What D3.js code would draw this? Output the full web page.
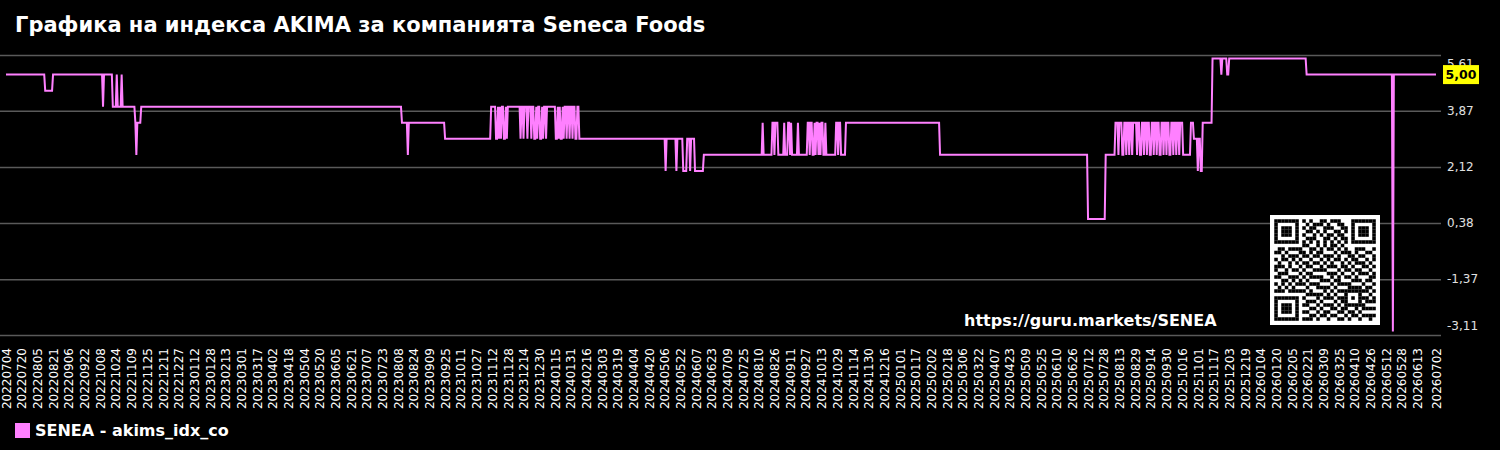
<!DOCTYPE html>
<html><head><meta charset="utf-8">
<script src="https://cdn.jsdelivr.net/npm/d3@7"></script>
<style>
html,body{margin:0;padding:0;background:#000;}
svg{display:block;font-family:"DejaVu Sans",sans-serif;}
</style></head>
<body>
<svg id="chart" width="1500" height="450"></svg>
<script>
// ---- data ----
const seriesName = "SENEA - akims_idx_co";
const titleText = "Графика на индекса AKIMA за компанията Seneca Foods";
const urlText = "https://guru.markets/SENEA";
const firstDate = "2022-07-04";
const lastDate = "2026-07-02";
const lastValue = 5.00;
// step series: date on which a new value starts, and the value
const runStarts = [
"2022-07-04","2022-08-13","2022-08-21","2022-10-11","2022-10-12","2022-10-21","2022-10-25","2022-10-26","2022-10-30","2022-10-31",
"2022-11-13","2022-11-14","2022-11-15","2022-11-19","2023-08-12","2023-08-18","2023-08-19","2023-09-25","2023-11-11",
"2023-11-16","2023-11-18","2023-11-19","2023-11-20","2023-11-21","2023-11-22","2023-11-24","2023-11-26","2023-11-27","2023-11-28",
"2023-12-11","2023-12-12","2023-12-14","2023-12-15","2023-12-18","2023-12-19","2023-12-22","2023-12-23","2023-12-25","2023-12-27",
"2023-12-28","2023-12-29","2023-12-31","2024-01-02","2024-01-03","2024-01-04","2024-01-06","2024-01-07","2024-01-16","2024-01-18",
"2024-01-19","2024-01-20","2024-01-21","2024-01-23","2024-01-24","2024-01-25","2024-01-27","2024-01-28","2024-01-30","2024-01-31",
"2024-02-02","2024-02-03","2024-02-05","2024-02-07","2024-02-09",
"2024-05-07","2024-05-08","2024-05-18","2024-05-19","2024-05-25","2024-05-29","2024-06-01","2024-06-02","2024-06-06","2024-06-15",
"2024-08-14","2024-08-15","2024-08-24","2024-08-26","2024-08-27","2024-08-30","2024-09-05","2024-09-06","2024-09-09","2024-09-11",
"2024-09-12","2024-09-13","2024-09-19","2024-09-20","2024-09-29","2024-10-01","2024-10-02","2024-10-04","2024-10-06","2024-10-07",
"2024-10-08","2024-10-10","2024-10-11","2024-10-12","2024-10-13","2024-10-15","2024-10-17","2024-10-18","2024-10-28","2024-10-30",
"2024-10-31","2024-11-02","2024-11-07","2025-02-11","2025-07-12","2025-07-30",
"2025-08-09","2025-08-12","2025-08-13","2025-08-16","2025-08-18","2025-08-20","2025-08-21","2025-08-23","2025-08-24","2025-08-26",
"2025-08-27","2025-08-31","2025-09-01","2025-09-03","2025-09-05","2025-09-07","2025-09-08","2025-09-10","2025-09-11","2025-09-13",
"2025-09-15","2025-09-17","2025-09-18","2025-09-20","2025-09-21","2025-09-23","2025-09-25","2025-09-27","2025-09-28","2025-09-30",
"2025-10-01","2025-10-03","2025-10-05","2025-10-07","2025-10-08","2025-10-10","2025-10-11","2025-10-13","2025-10-14","2025-10-17",
"2025-10-25","2025-10-28","2025-11-01","2025-11-02","2025-11-04","2025-11-06","2025-11-16","2025-11-25","2025-11-26","2025-12-01",
"2025-12-03","2026-02-20","2026-05-19","2026-05-20"
];
const runValues = [
5.0,4.5,5.0,4.0,5.0,4.0,5.0,4.0,5.0,4.0,
3.5,2.5,3.5,4.0,3.5,2.5,3.5,3.0,4.0,
3.0,4.0,3.0,4.0,3.0,4.0,3.0,4.0,3.0,4.0,
3.0,4.0,3.0,4.0,3.0,4.0,3.0,4.0,3.0,4.0,
3.0,4.0,3.0,4.0,3.0,4.0,3.0,4.0,3.0,4.0,
3.0,4.0,3.0,4.0,3.0,4.0,3.0,4.0,3.0,4.0,
3.0,4.0,3.0,4.0,3.0,
2.0,3.0,2.0,3.0,2.0,3.0,2.0,3.0,2.0,2.5,
3.5,2.5,3.5,2.5,3.5,2.5,3.5,2.5,3.5,2.5,
3.5,2.5,3.5,2.5,3.5,2.5,3.5,2.5,3.5,2.5,
3.5,2.5,3.5,2.5,3.5,2.5,3.5,2.5,3.5,2.5,
3.5,2.5,3.5,2.5,0.5,2.5,
3.5,2.5,3.5,2.5,3.5,2.5,3.5,2.5,3.5,2.5,
3.5,2.5,3.5,2.5,3.5,2.5,3.5,2.5,3.5,2.5,
3.5,2.5,3.5,2.5,3.5,2.5,3.5,2.5,3.5,2.5,
3.5,2.5,3.5,2.5,3.5,2.5,3.5,2.5,3.5,2.5,
3.5,3.0,2.0,3.0,2.0,3.5,5.5,5.0,5.5,5.0,
5.5,5.0,-3.0,5.0
];
const yTicks = [5.61, 3.87, 2.12, 0.38, -1.37, -3.11];
const yDomain = [-3.11, 5.61];
const xTickStepDays = 16;
const qrRows = [
"10110011101001101110010110100","01101100010111010011011001011","11010110101100111001101011100",
"00111010011010100110110100111","10100111100101011011001110010","01011001011100110101110010110",
"11100101101001110010101101001","10011010110010101101011010110","01101101001101011010100111001",
"11010011101011000101110100110","00101100110110111010011011001","10110111001001010110101100101",
"01001010110110101001010111010","11101001011001011101101001101","10010110100111100010110110010",
"01110011011000011101001011101","11001100101111001010110100011","00110111010001110110001110110",
"10101001101110001011110001001","01010110010011110100011110110","11101101101000101011001001101",
"10010010011111010100110110010","01101101100010111011001011101","11010011011101000101110100111",
"00101100110010111010011011000","10111011001101001101100101111","01000110110010110011011010000",
"11101001001101101100101101111","10010110111010010011010010010"
];

// ---- build ----
const parse = d3.timeParse("%Y-%m-%d");
const pts = [];
runStarts.forEach((s, i) => {
  const d0 = parse(s);
  const d1 = i + 1 < runStarts.length ? d3.timeDay.offset(parse(runStarts[i+1]), -1) : parse(lastDate);
  pts.push({d: d0, v: runValues[i]});
  if (+d1 > +d0) pts.push({d: d1, v: runValues[i]});
});

const svg = d3.select("#chart");
svg.append("rect").attr("width",1500).attr("height",450).attr("fill","#000");

const x = d3.scaleTime().domain([parse(firstDate), parse(lastDate)]).range([6, 1436]);
const y = d3.scaleLinear().domain(yDomain).range([335, 55]);
const gridRight = 1441;
const fmt = v => d3.format(".2f")(v).replace(".", ",").replace("\u2212", "-");

// y axis + grid
const yAxis = d3.axisRight(y).tickValues(yTicks).tickSize(-gridRight).tickFormat(fmt);
const gy = svg.append("g").attr("transform", `translate(${gridRight},0)`).call(yAxis);
gy.select(".domain").remove();
gy.selectAll(".tick line").attr("stroke", "#5a5a5a").attr("stroke-width", 1.5);
gy.selectAll(".tick text").attr("fill", "#e0e0e0").attr("font-size", "12px")
  .attr("font-family", "DejaVu Sans").attr("x", 6)
  .attr("dy", d => d === yDomain[1] ? "1.0em" : (d === yDomain[0] ? "-0.45em" : "0.32em"));

// x axis
const xTicks = d3.timeDay.range(parse(firstDate), d3.timeDay.offset(parse(lastDate), -xTickStepDays + 1), xTickStepDays);
xTicks.push(parse(lastDate));
const xAxis = d3.axisBottom(x).tickValues(xTicks).tickSize(0).tickFormat(d3.timeFormat("%Y%m%d"));
const gx = svg.append("g").attr("transform", "translate(0,343)").call(xAxis);
gx.select(".domain").remove();
gx.selectAll(".tick text").attr("fill", "#fff").attr("font-size", "12px").attr("font-family", "DejaVu Sans")
  .attr("text-anchor", "end").attr("transform", "rotate(-90)").attr("x", -5).attr("y", 0).attr("dy", "0.35em");

// line
const line = d3.line().x(d => x(d.d)).y(d => y(d.v));
svg.append("path").datum(pts).attr("d", line).attr("fill", "none")
  .attr("stroke", "#ff80ff").attr("stroke-width", 2).attr("stroke-linejoin", "miter");

// last value badge
const by = y(lastValue);
svg.append("rect").attr("x", 1443).attr("y", by - 9.5).attr("width", 36).attr("height", 19).attr("fill", "#ffff00");
svg.append("text").attr("x", 1461).attr("y", by).attr("dy", "0.36em").attr("text-anchor", "middle")
  .attr("font-size", "12.5px").attr("font-weight", "bold").attr("fill", "#000")
  .text(fmt(lastValue));

// title
svg.append("text").attr("x", 15).attr("y", 32).attr("fill", "#fff").attr("font-size", "21px")
  .attr("font-weight", "bold").text(titleText);

// url
svg.append("text").attr("x", 964).attr("y", 326).attr("fill", "#fff").attr("font-size", "16px")
  .attr("font-weight", "bold").text(urlText);

// qr
const N = 29, qx = 1270, qy = 215, qs = 110, m = 3.5, off = (qs - N * m) / 2;
const grid = qrRows.map(r => r.padEnd(N, "0").slice(0, N).split("").map(c => c === "1"));
function finder(r0, c0) {
  for (let r = -1; r <= 7; r++) for (let c = -1; c <= 7; c++) {
    const rr = r0 + r, cc = c0 + c;
    if (rr < 0 || cc < 0 || rr >= N || cc >= N) continue;
    let v = false;
    if (r >= 0 && r <= 6 && c >= 0 && c <= 6) {
      v = (r === 0 || r === 6 || c === 0 || c === 6) || (r >= 2 && r <= 4 && c >= 2 && c <= 4);
    }
    grid[rr][cc] = v;
  }
}
finder(0, 0); finder(0, N - 7); finder(N - 7, 0);
for (let i = 8; i < N - 8; i++) { grid[6][i] = i % 2 === 0; grid[i][6] = i % 2 === 0; }
for (let r = -2; r <= 2; r++) for (let c = -2; c <= 2; c++)
  grid[22 + r][22 + c] = (Math.max(Math.abs(r), Math.abs(c)) !== 1);
svg.append("rect").attr("x", qx).attr("y", qy).attr("width", qs).attr("height", qs).attr("fill", "#fff");
const cells = [];
grid.forEach((row, r) => row.forEach((v, c) => { if (v) cells.push([r, c]); }));
svg.append("g").selectAll("rect").data(cells).join("rect")
  .attr("x", d => qx + off + d[1] * m).attr("y", d => qy + off + d[0] * m)
  .attr("width", m + 0.05).attr("height", m + 0.05).attr("fill", "#000");

// legend
svg.append("rect").attr("x", 15).attr("y", 423).attr("width", 15).attr("height", 15).attr("fill", "#ff80ff");
svg.append("text").attr("x", 35).attr("y", 436).attr("fill", "#fff").attr("font-size", "16px")
  .attr("font-weight", "bold").text(seriesName);
</script>
</body></html>
